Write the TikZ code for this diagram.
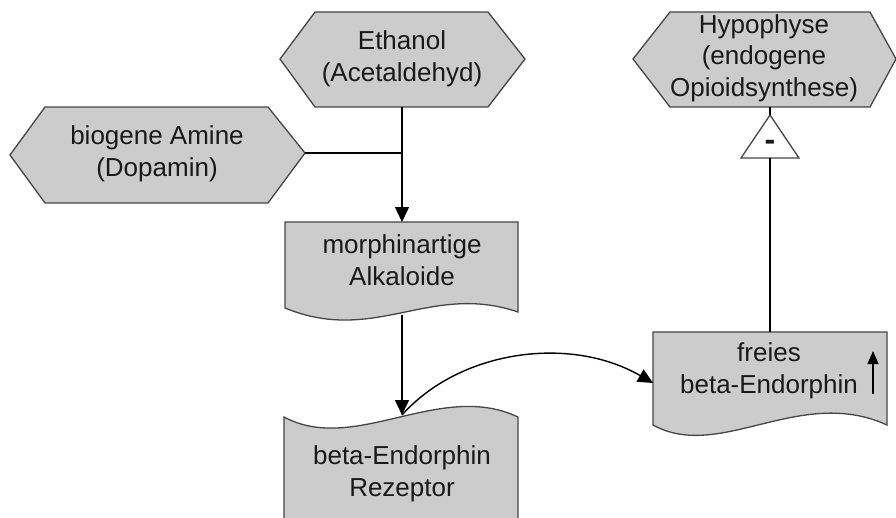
\documentclass[tikz,border=0pt]{standalone}
\usepackage{fontspec}
\setmainfont{Liberation Sans}
\usetikzlibrary{arrows.meta}
\definecolor{shapefill}{RGB}{204,204,204}
\definecolor{shapeline}{RGB}{70,70,70}
\definecolor{txt}{RGB}{25,25,25}
\tikzset{
  shapebox/.style={fill=shapefill, draw=shapeline, line width=1.3pt, line join=miter},
  lbl/.style={align=center, font=\fontsize{26}{31.5}\selectfont, text=txt, inner sep=0pt},
  conn/.style={draw=black, line width=1.4pt},
  arr/.style={conn, -{Triangle[width=14pt,length=15pt]}},
  smallarr/.style={conn, -{Triangle[width=11pt,length=13pt]}},
}
\begin{document}
\begin{tikzpicture}[x=1pt,y=-1pt]
\useasboundingbox (0,0) rectangle (896,517);
\clip (0,0) rectangle (896,517);
\fill[white] (0,0) rectangle (896,517);

% shapes
\draw[shapebox] (280,59) -- (315,12) -- (488,12) -- (525,59) -- (488,107) -- (315,107) -- cycle;
\draw[shapebox] (10,155) -- (45,107) -- (268,107) -- (305,153) -- (268,203) -- (45,203) -- cycle;
\draw[shapebox] (633,59) -- (670,12) -- (870,12) -- (896,59) -- (870,107) -- (670,107) -- cycle;
\draw[shapebox] (285,222) -- (518,222) -- (518,312) .. controls (430,282) and (375,345) .. (285,308) -- cycle;
\draw[shapebox] (284,540) -- (284,417) .. controls (355,455) and (440,380) .. (518,417) -- (518,540) -- cycle;
\draw[shapebox] (653,332) -- (887,332) -- (887,425) .. controls (800,385) and (720,462) .. (653,425) -- cycle;
\draw[fill=white, draw=shapeline, line width=1.3pt] (770,115) -- (799,158) -- (741,158) -- cycle;

% texts
\node[lbl] (eth) at (402,59) {Ethanol\\(Acetaldehyd)};
\node[lbl] (bio) at (157,154) {biogene Amine\\(Dopamin)};
\node[lbl] (hyp) at (764,58) {Hypophyse\\(endogene\\Opioidsynthese)};
\node[lbl] (mor) at (402,260) {morphinartige\\Alkaloide};
\node[lbl] (rec) at (402,474) {beta-Endorphin\\Rezeptor};
\node[lbl] (fre) at (769,371) {freies\\beta-Endorphin};
\node[lbl, font=\fontsize{32}{32}\selectfont\bfseries] (minus) at (770,145.5) {-};

% anchor points
\coordinate (eth-s) at (402,107);
\coordinate (bio-e) at (305,153);
\coordinate (join) at (402,153);
\coordinate (mor-n) at (402,222);
\coordinate (mor-s) at (402,315);
\coordinate (rec-n) at (402,415);
\coordinate (fre-w) at (653,383);
\coordinate (fre-n) at (770,332);
\coordinate (tri-s) at (770,158);
\coordinate (tri-n) at (770,115);
\coordinate (hyp-s) at (770,107);
\coordinate (up-s) at (873,394);
\coordinate (up-n) at (873,351);

% connectors
\draw[arr] (eth-s) -- (mor-n);
\draw[conn] (bio-e) -- (join);
\draw[arr] (mor-s) -- (rec-n);
\draw[arr] (rec-n) .. controls (460,350) and (570,335) .. (fre-w);
\draw[conn] (fre-n) -- (tri-s);
\draw[conn] (tri-n) -- (hyp-s);
\draw[smallarr] (up-s) -- (up-n);
\end{tikzpicture}
\end{document}
